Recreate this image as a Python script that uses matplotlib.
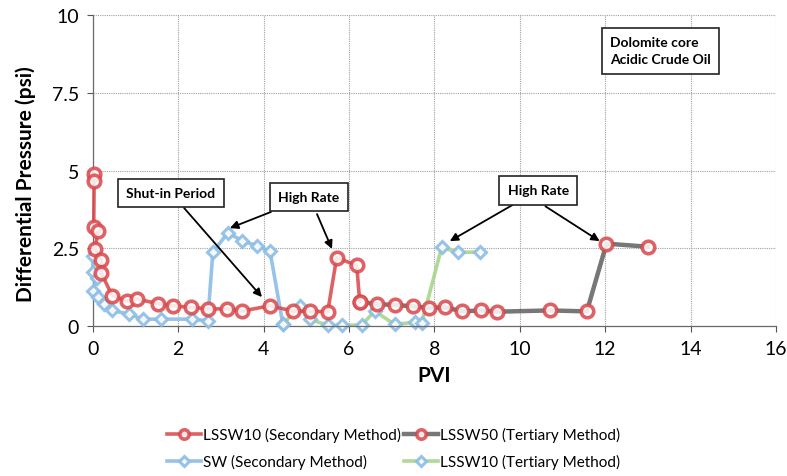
import matplotlib
matplotlib.use('Agg')
import matplotlib.pyplot as plt

plt.rcParams['font.family'] = ['Lato', 'DejaVu Sans']

# LSSW10, secondary flood
lssw10_sec_pvi = [0.02, 0.03, 0.02, 0.12, 0.05, 0.2, 0.2, 0.45, 0.8, 1.03,
                  1.52, 1.87, 2.3, 2.69, 3.13, 3.5, 4.14, 4.69, 5.08, 5.5,
                  5.71, 6.18, 6.25]
lssw10_sec_dp = [4.9, 4.68, 3.18, 3.05, 2.48, 2.12, 1.7, 0.98, 0.8, 0.87,
                 0.72, 0.65, 0.6, 0.55, 0.55, 0.48, 0.65, 0.48, 0.48, 0.45,
                 2.2, 1.95, 0.78]

# LSSW50, tertiary flood
lssw50_ter_pvi = [6.25, 6.65, 7.07, 7.5, 7.88, 8.25, 8.65, 9.1, 9.46, 10.7,
                  11.57, 12.03, 13.0]
lssw50_ter_dp = [0.78, 0.7, 0.68, 0.63, 0.58, 0.6, 0.47, 0.5, 0.46, 0.5,
                 0.47, 2.65, 2.55]

# SW, secondary flood
sw_sec_pvi = [0.0, 0.0, 0.1, 0.0, 0.12, 0.25, 0.45, 0.85, 1.17, 1.6, 2.32,
              2.69, 2.81, 3.16, 3.5, 3.84, 4.15, 4.45]
sw_sec_dp = [2.25, 1.75, 1.55, 1.13, 0.93, 0.7, 0.5, 0.38, 0.22, 0.22, 0.22,
             0.17, 2.37, 3.0, 2.74, 2.58, 2.4, 0.05]

# LSSW10, tertiary flood
lssw10_ter_pvi = [4.45, 4.85, 5.08, 5.5, 5.83, 6.3, 6.6, 7.07, 7.54, 7.7,
                  8.17, 8.55, 9.06]
lssw10_ter_dp = [0.05, 0.65, 0.22, 0.02, 0.02, 0.03, 0.48, 0.05, 0.12, 0.08,
                 2.53, 2.37, 2.38]

x_ticks = [0, 2, 4, 6, 8, 10, 12, 14, 16]
y_ticks = [0, 2.5, 5, 7.5, 10]
y_tick_labels = ['0', '2.5', '5', '7.5', '10']

RED = '#d9474a'
BLUE = '#8dbde6'
GREY = '#5f5f5f'
GREEN = '#a8d58a'

fig = plt.figure(figsize=(7.87, 4.77), dpi=100)
ax = fig.add_axes([0.118, 0.3145, 0.868, 0.6515])

circ = dict(marker='o', markersize=9, markerfacecolor='white',
            markeredgecolor=RED, markeredgewidth=2.6, alpha=0.85,
            clip_on=False)
diam = dict(marker='D', markersize=6.5, markerfacecolor='white',
            markeredgecolor=BLUE, markeredgewidth=2.2, alpha=0.9,
            clip_on=False)

l1, = ax.plot(lssw10_sec_pvi, lssw10_sec_dp, color=RED, lw=2.6,
              label='LSSW10 (Secondary Method)', zorder=4, **circ)
l3, = ax.plot(lssw50_ter_pvi, lssw50_ter_dp, color=GREY, lw=3.2,
              label='LSSW50 (Tertiary Method)', zorder=3, **circ)
l2, = ax.plot(sw_sec_pvi, sw_sec_dp, color=BLUE, lw=2.6,
              label='SW (Secondary Method)', zorder=3, **diam)
l4, = ax.plot(lssw10_ter_pvi, lssw10_ter_dp, color=GREEN, lw=2.6,
              label='LSSW10 (Tertiary Method)', zorder=2, **diam)

ax.set_xlim(0, 16)
ax.set_ylim(0, 10)
ax.set_xticks(x_ticks)
ax.set_yticks(y_ticks)
ax.set_yticklabels(y_tick_labels)
ax.tick_params(labelsize=14, length=4, color='#555555', pad=6)
ax.grid(True, linestyle=(0, (1, 1)), color='#a0a0a0', lw=0.8)
ax.set_axisbelow(True)
for side in ['top', 'right']:
    ax.spines[side].set_visible(False)
for side in ['left', 'bottom']:
    ax.spines[side].set_color('#6a6a6a')
    ax.spines[side].set_linewidth(0.9)

ax.set_xlabel('PVI', fontsize=15, fontweight='bold', labelpad=6)
ax.set_ylabel('Differential Pressure (psi)', fontsize=15, fontweight='bold',
              labelpad=6)
ax.yaxis.set_label_coords(-0.083, 0.46)

box = dict(boxstyle='square,pad=0.6', fc='white', ec='#222222', lw=1.2)
arrow = dict(arrowstyle='-|>', color='black', lw=1.3, mutation_scale=12,
             shrinkA=0, shrinkB=0)

ax.annotate('Shut-in Period', xy=(3.96, 0.93), xytext=(1.83, 4.28),
            fontsize=10, fontweight='bold', ha='center', va='center',
            bbox=box, arrowprops=arrow, zorder=6)

ax.annotate('High Rate', xy=(3.21, 3.15), xytext=(5.06, 4.15),
            fontsize=10, fontweight='bold', ha='center', va='center',
            bbox=box, arrowprops=arrow, zorder=6)
ax.annotate('', xy=(5.6, 2.48), xytext=(5.25, 3.6),
            arrowprops=arrow, zorder=6)

ax.annotate('High Rate', xy=(8.36, 2.73), xytext=(10.43, 4.37),
            fontsize=10, fontweight='bold', ha='center', va='center',
            bbox=box, arrowprops=arrow, zorder=6)
ax.annotate('', xy=(11.87, 2.73), xytext=(10.6, 3.85),
            arrowprops=arrow, zorder=6)

ax.text(12.12, 8.85, 'Dolomite core\nAcidic Crude Oil', fontsize=10,
        fontweight='bold', ha='left', va='center', linespacing=1.5,
        bbox=dict(boxstyle='square,pad=0.6', fc='white', ec='#222222',
                  lw=1.2), zorder=6)

fig.legend(handles=[l1, l2, l3, l4], ncol=2, loc='lower center',
           bbox_to_anchor=(0.5, -0.015), frameon=False, fontsize=11,
           handlelength=2.2, handletextpad=0.15, columnspacing=0.2,
           labelspacing=0.8, borderpad=0.4, markerscale=0.75)

fig.savefig('out.png', dpi=100)
